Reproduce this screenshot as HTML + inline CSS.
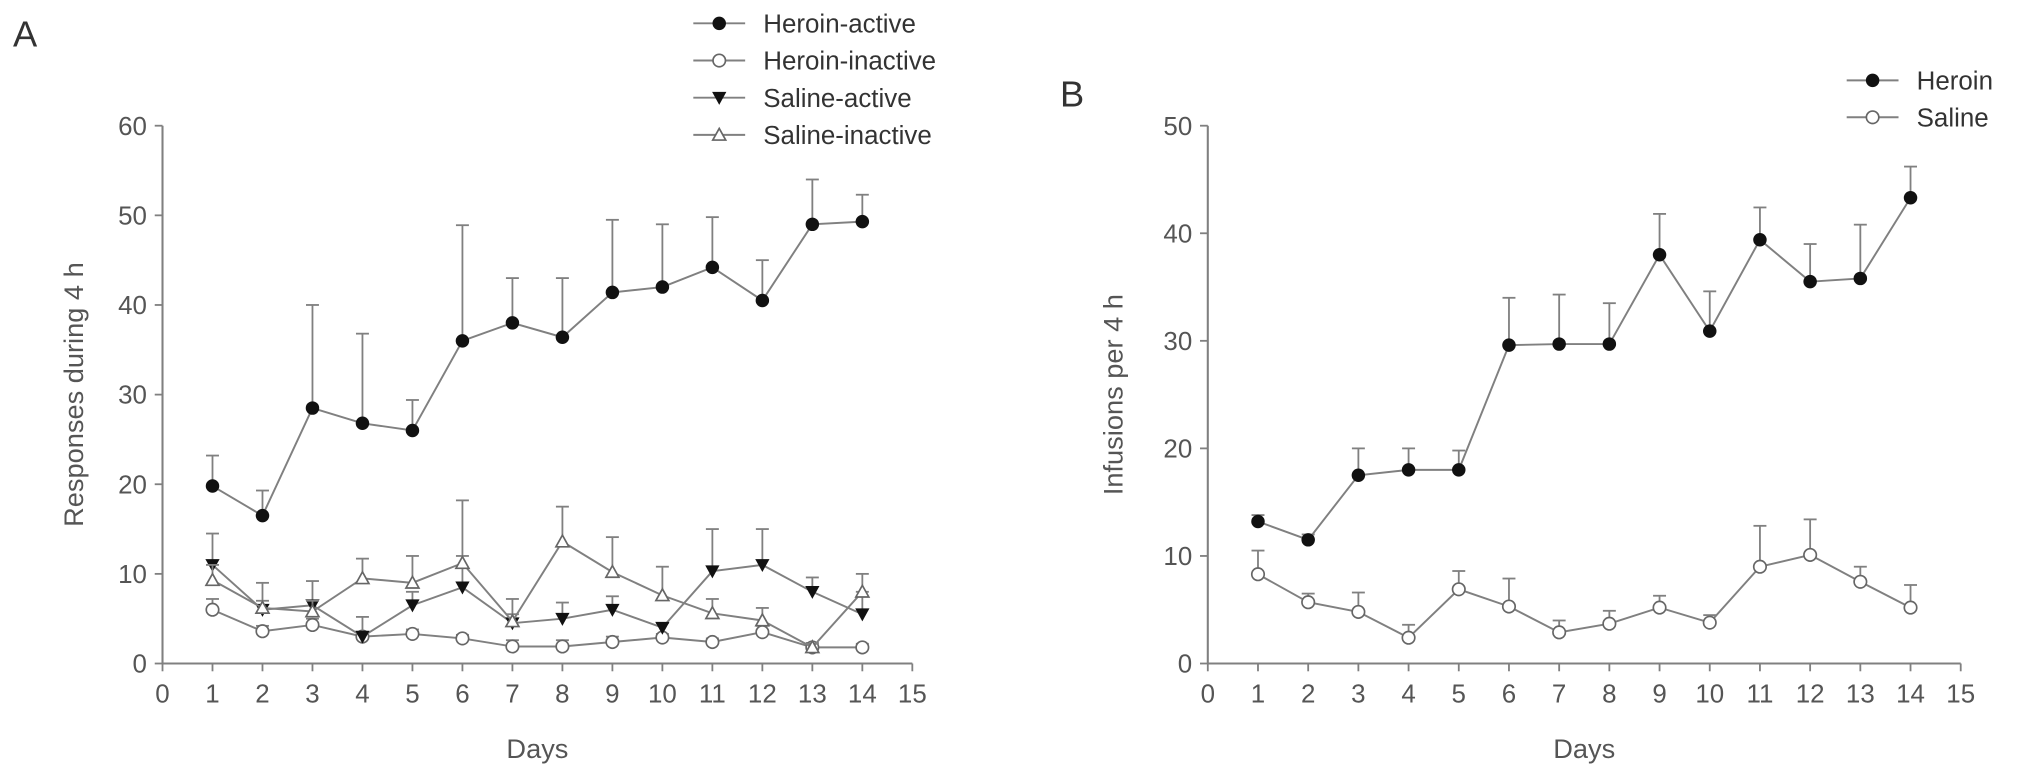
<!DOCTYPE html>
<html><head><meta charset="utf-8"><style>
html,body{margin:0;padding:0;background:#fff;}
svg{display:block;font-family:"Liberation Sans",sans-serif;}
</style></head><body>
<svg id="chart" width="2032" height="776" viewBox="0 0 1568 598.8" xmlns="http://www.w3.org/2000/svg"></svg>
<script>
const days=[1,2,3,4,5,6,7,8,9,10,11,12,13,14];
const xTicks=[0,1,2,3,4,5,6,7,8,9,10,11,12,13,14,15];
const yTicksA=[0,10,20,30,40,50,60];
const yTicksB=[0,10,20,30,40,50];
const heroinActive=[19.8,16.5,28.5,26.8,26,36,38,36.4,41.4,42,44.2,40.5,49,49.3];
const heroinActiveErr=[23.2,19.3,40,36.8,29.4,48.9,43,43,49.5,49,49.8,45,54,52.3];
const heroinInactive=[6,3.6,4.3,3,3.3,2.8,1.9,1.9,2.4,2.9,2.4,3.5,1.8,1.8];
const heroinInactiveErr=[7.2,4.2,5,3.5,3.8,3.2,2.6,2.6,3,3.3,2.8,4.2,2.3,2.2];
const salineActive=[11,6,6.5,3,6.5,8.5,4.5,5,6,4,10.3,11,8,5.5];
const salineActiveErr=[14.5,9,9.2,5.2,8,12,5.5,6.8,7.5,4.5,15,15,9.6,8];
const salineInactive=[9.3,6.2,5.8,9.5,9,11.2,4.7,13.6,10.2,7.6,5.6,4.8,1.8,8];
const salineInactiveErr=[11,7,7,11.7,12,18.2,7.2,17.5,14.1,10.8,7.2,6.2,2.2,10];
const heroinInf=[13.2,11.5,17.5,18,18,29.6,29.7,29.7,38,30.9,39.4,35.5,35.8,43.3];
const heroinInfErr=[13.8,12,20,20,19.8,34,34.3,33.5,41.8,34.6,42.4,39,40.8,46.2];
const salineInf=[8.3,5.7,4.8,2.4,6.9,5.3,2.9,3.7,5.2,3.8,9,10.1,7.6,5.2];
const salineInfErr=[10.5,6.5,6.6,3.6,8.6,7.9,4,4.9,6.3,4.5,12.8,13.4,9,7.3];

const NS="http://www.w3.org/2000/svg";
const svg=document.getElementById('chart');
function el(tag,attrs,parent,txt){const e=document.createElementNS(NS,tag);for(const k in attrs)e.setAttribute(k,attrs[k]);if(txt!==undefined)e.textContent=txt;(parent||svg).appendChild(e);return e;}
const LINE='#808080', TXT='#555';

function panel(cfg){
  const g=el('g',{});
  
  
  const X=v=>cfg.x0+(cfg.x1-cfg.x0)*v/15;
  const Y=v=>cfg.y0-(cfg.y0-cfg.yTop)*v/cfg.yMax;
  const ax=el('line',{x1:cfg.x0,y1:cfg.y0,x2:cfg.x1,y2:cfg.y0,stroke:LINE,'stroke-width':1.6},g);
  
  
  const ay=el('line',{x1:cfg.x0,y1:cfg.y0,x2:cfg.x0,y2:cfg.yTop,stroke:LINE,'stroke-width':1.6},g);
  
  
  xTicks.forEach(t=>{
    el('line',{x1:X(t),y1:cfg.y0,x2:X(t),y2:cfg.y0+6,stroke:LINE,'stroke-width':1.4},g);
    const tl=el('text',{x:X(t),y:cfg.y0+30,'text-anchor':'middle','font-size':20,fill:TXT},g,String(t));
    
    
  });
  cfg.yTicks.forEach(t=>{
    el('line',{x1:cfg.x0-6,y1:Y(t),x2:cfg.x0,y2:Y(t),stroke:LINE,'stroke-width':1.4},g);
    const tl=el('text',{x:cfg.x0-12,y:Y(t)+7,'text-anchor':'end','font-size':20,fill:TXT},g,String(t));
    
    
  });
  const xt=el('text',{x:(X(0)+X(15))/2,y:cfg.y0+73,'text-anchor':'middle','font-size':21,fill:TXT},g,'Days');
  
  
  const yc=(cfg.y0+cfg.yTop)/2;
  const yt=el('text',{x:cfg.ytX,y:yc,'text-anchor':'middle','font-size':21,fill:TXT,transform:`rotate(-90 ${cfg.ytX} ${yc})`},g,cfg.yTitle);
  
  
  const pl=el('text',{x:cfg.lx,y:cfg.ly,'font-size':28,fill:'#333'},g,cfg.letter);
  
  
  cfg.series.forEach((s,si)=>{
    const sg=el('g',{},g);
    
    
    s.vals.forEach((v,i)=>{
      const x=X(days[i]);
      el('line',{x1:x,y1:Y(v),x2:x,y2:Y(s.err[i]),stroke:LINE,'stroke-width':1.4},sg);
      el('line',{x1:x-5,y1:Y(s.err[i]),x2:x+5,y2:Y(s.err[i]),stroke:LINE,'stroke-width':1.4},sg);
    });
    const pts=s.vals.map((v,i)=>X(days[i])+','+Y(v)).join(' ');
    const ln=el('polyline',{points:pts,fill:'none',stroke:LINE,'stroke-width':1.5},sg);
    
    
    s.vals.forEach((v,i)=>{
      const m=marker(s.m,X(days[i]),Y(v),sg);
      
      
    });
    // legend
    const ly=cfg.legY+si*cfg.legDy;
    const lg=el('g',{},g);
    
    
    el('line',{x1:cfg.legX,y1:ly,x2:cfg.legX+40,y2:ly,stroke:LINE,'stroke-width':1.5},lg);
    marker(s.m,cfg.legX+20,ly,lg);
    el('text',{x:cfg.legX+54,y:ly+7,'font-size':20,fill:'#333'},lg,s.label);
  });
}
function marker(type,x,y,p){
  if(type==='fc') return el('circle',{cx:x,cy:y,r:5.2,fill:'#111'},p);
  if(type==='oc') return el('circle',{cx:x,cy:y,r:4.8,fill:'#fff',stroke:'#666','stroke-width':1.3},p);
  if(type==='ft') return el('polygon',{points:`${x-5.5},${y-4.5} ${x+5.5},${y-4.5} ${x},${y+5.5}`,fill:'#111'},p);
  return el('polygon',{points:`${x-5},${y+4} ${x+5},${y+4} ${x},${y-5}`,fill:'#fff',stroke:'#666','stroke-width':1.3},p);
}
panel({name:'panel-a',x0:125.4,x1:704,y0:512,yTop:97,yMax:60,yTicks:yTicksA,ytX:64,yTitle:'Responses during 4 h',letter:'A',lx:10,ly:36,legX:535,legY:18,legDy:28.7,
 series:[
  {key:'heroin-active',label:'Heroin-active',vals:heroinActive,err:heroinActiveErr,m:'fc'},
  {key:'heroin-inactive',label:'Heroin-inactive',vals:heroinInactive,err:heroinInactiveErr,m:'oc'},
  {key:'saline-active',label:'Saline-active',vals:salineActive,err:salineActiveErr,m:'ft'},
  {key:'saline-inactive',label:'Saline-inactive',vals:salineInactive,err:salineInactiveErr,m:'ot'}]});
panel({name:'panel-b',x0:932,x1:1513,y0:512,yTop:97,yMax:50,yTicks:yTicksB,ytX:866,yTitle:'Infusions per 4 h',letter:'B',lx:818,ly:82,legX:1425,legY:62,legDy:28.5,
 series:[
  {key:'heroin',label:'Heroin',vals:heroinInf,err:heroinInfErr,m:'fc'},
  {key:'saline',label:'Saline',vals:salineInf,err:salineInfErr,m:'oc'}]});
</script>
</body></html>
